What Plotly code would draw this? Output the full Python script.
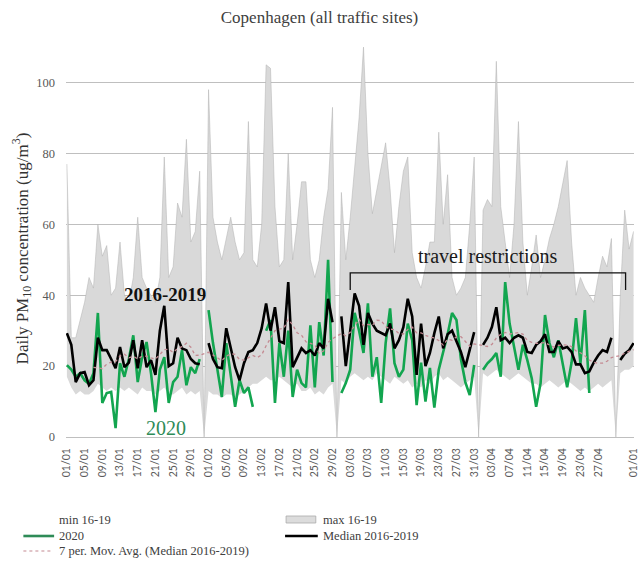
import plotly.graph_objects as go
import pandas as pd

# ---------------- data ----------------
# slots: Jan (31) | gap | Feb (29) | gap | Mar (31) | gap | Apr (30) | gap | tail (4)
max_jan = [77, 28, 28, 33, 38, 45, 42, 60, 51, 54, 40, 42, 55, 40, 38, 45, 62, 45, 42, 40,
           38, 45, 79, 45, 48, 66, 62, 84, 55, 58, 75]
max_feb = [98, 62, 55, 50, 56, 62, 55, 50, 52, 89, 50, 48, 60, 105, 104, 65, 48, 50, 80, 50,
           60, 72, 72, 50, 45, 50, 62, 70, 93]
max_mar = [69, 50, 62, 75, 90, 110, 80, 63, 70, 77, 83, 70, 52, 65, 75, 79, 52, 45, 42, 48,
           55, 55, 86, 60, 74, 45, 40, 42, 45, 60, 79]
max_apr = [64, 67, 65, 106, 65, 55, 45, 60, 89, 55, 40, 48, 57, 45, 50, 56, 60, 65, 72, 78,
           55, 40, 45, 42, 40, 38, 45, 51, 48, 56]
max_tail = [40, 64, 53, 58]

min_jan = [17, 14, 12, 13, 12, 12, 13, 15, 14, 13, 14, 13, 14, 13, 14, 13, 12, 14, 13, 13,
           12, 13, 14, 12, 12, 13, 14, 12, 13, 12, 13]
min_feb = [13, 12, 12, 11, 12, 12, 11, 12, 13, 14, 15, 15, 16, 17, 16, 16, 17, 16, 15, 14,
           15, 13, 13, 14, 12, 13, 12, 14, 15]
min_mar = [16, 15, 17, 18, 17, 16, 17, 16, 18, 17, 16, 15, 17, 16, 15, 16, 14, 15, 14, 16,
           15, 17, 18, 16, 17, 16, 15, 14, 15, 16, 17]
min_apr = [18, 17, 18, 19, 18, 17, 16, 17, 18, 17, 16, 15, 15, 14, 15, 16, 15, 14, 15, 16,
           15, 14, 13, 14, 13, 14, 15, 14, 15, 16]
min_tail = [18, 19, 19, 20]

med_jan = [29.3, 26, 15.5, 18, 18.3, 14.6, 16, 28, 24.5, 24.5, 22, 19.4, 25.4, 19.7, 21, 27.3,
           19.4, 27.3, 19.7, 21.7, 17.5, 30, 37, 20, 20.8, 28, 25, 24.5, 22, 20.8, 20.5]
med_feb = [26.5, 22, 19.7, 19.4, 30.7, 25.4, 19.7, 16, 20.8, 24, 24.5, 26.5, 30.7, 37.7, 30,
           36.6, 27, 26.5, 43.7, 19.7, 22.5, 25, 23.7, 24.5, 23, 26.5, 25, 39, 32.4]
med_mar = [34, 20, 30, 40.5, 37, 26, 35, 32, 30, 29.3, 28.7, 32, 25, 27.3, 31, 39, 34, 17.5,
           32, 20, 23.7, 29.3, 34, 25, 29, 30, 27, 24, 19.7, 24.5, 29.6]
med_apr = [26, 28, 31, 36.6, 27.3, 28, 26.5, 28, 28.7, 28, 24, 23.7, 26, 27, 29, 24, 24, 27,
           25, 25.4, 24, 20.5, 20.5, 18, 18.5, 21, 23, 24.5, 24, 28]
med_tail = [21.7, 23.5, 24.5, 26.5]

y20_jan = [20.3, 19, 17, 18, 16, 15, 18, 35, 9.6, 12.4, 12.7, 2.5, 20.8, 17, 22, 28.7, 15.5,
           22.5, 26.8, 18, 7, 19, 22.5, 9.6, 15.5, 17, 24.5, 14.6, 19.7, 18, 22]
y20_feb = [35.8, 26.5, 19, 11.3, 26.5, 17, 8.5, 16, 12.4, 14, 8.5, None, None, 30, 33, 9.6,
           26.5, 17, 30, 11.3, 19, 15.2, 14, 31.5, 14, 32.4, 23, 50, 15.5]
y20_mar = [12.4, 15.2, 19, 35, 30, 23.7, 37.7, 17, 22.5, 9.6, 26.5, 36.3, 20.8, 17, 19, 32,
           27.3, 9, 21, 10, 19.5, 8.3, 19, 24, 29, 35, 33, 22, 15.5, 11.8, 20.3]
y20_apr = [19, 20.8, 22, 23.7, 17, 43.7, 32, 25, 19, 26, 21.7, 16.6, 8.5, 15.2, 34.4, 26.5,
           22.5, 27.3, 20.8, 14, 21, 33.5, 20.8, 35.8, 12.4, None, None, None, None, None]
y20_tail = [None, None, None, None]

tick_labels = ["01/01", "05/01", "09/01", "13/01", "17/01", "21/01", "25/01", "29/01",
               "01/02", "05/02", "09/02", "13/02", "17/02", "21/02", "25/02", "29/02",
               "03/03", "07/03", "11/03", "15/03", "19/03", "23/03", "27/03", "31/03",
               "03/04", "07/04", "11/04", "15/04", "19/04", "23/04", "27/04", "", "01/01"]


def join(parts, gap):
    out = []
    for i, p in enumerate(parts):
        out += p
        if i < len(parts) - 1:
            out.append(gap)
    return out


# area series: empty cells plotted as zero (as in the source chart); line series: gaps
max_all = join([max_jan, max_feb, max_mar, max_apr, max_tail], 0)
min_all = join([min_jan, min_feb, min_mar, min_apr, min_tail], 0)
med_all = join([med_jan, med_feb, med_mar, med_apr, med_tail], None)
y20_all = join([y20_jan, y20_feb, y20_mar, y20_apr, y20_tail], None)
x = list(range(len(max_all)))

# 7-period moving-average trendline of the median (the chart's own trendline)
med_s = pd.Series(med_all, index=x, dtype=float).dropna()
ma = med_s.rolling(7).mean().dropna()

W, H = 639, 562
L, R, T, B = 66, 0, 40, 125
PW, PH = W - L - R, H - T - B


def px(xp):
    return (xp - L) / PW


def py(yp):
    return (H - B - yp) / PH


SERIF = "Liberation Serif, Times New Roman, serif"

fig = go.Figure()
fig.add_trace(go.Scatter(x=x, y=min_all, mode="lines", line=dict(width=0),
                         hoverinfo="skip", name="min 16-19"))
fig.add_trace(go.Scatter(x=x, y=max_all, mode="lines", fill="tonexty",
                         fillcolor="#d9d9d9", line=dict(color="#b0b0b0", width=0.5),
                         name="max 16-19"))
fig.add_trace(go.Scatter(x=x, y=y20_all, mode="lines", connectgaps=False,
                         line=dict(color="#12a54f", width=2.6), name="2020"))
fig.add_trace(go.Scatter(x=x, y=med_all, mode="lines", connectgaps=False,
                         line=dict(color="#000000", width=2.6), name="Median 2016-2019"))
fig.add_trace(go.Scatter(x=list(ma.index), y=list(ma.values), mode="lines",
                         line=dict(color="#c48a92", width=1.3, dash="dot"),
                         name="7 per. Mov. Avg. (Median 2016-2019)"))


def note(text, xp, yp, font, xanchor="center", **kw):
    return dict(text=text, x=px(xp), y=py(yp), xref="paper", yref="paper",
                xanchor=xanchor, yanchor="middle", showarrow=False, font=font, **kw)


annotations = [
    note("Daily PM<sub>10</sub> concentration (ug/m<sup>3</sup>)", 21, 248,
         dict(family=SERIF, size=17, color="#333333"), textangle=-90),
    note("travel restrictions", 492, 256, dict(family=SERIF, size=20, color="#1a1a1a")),
    note("<b>2016-2019</b>", 166, 294, dict(family=SERIF, size=19, color="#111111")),
    note("2020", 167, 428, dict(family=SERIF, size=20, color="#2e8b57")),
]

leg_font = dict(family=SERIF, size=12.5, color="#404040")
legend_items = [("min 16-19", 57, 520), ("max 16-19", 323, 520), ("2020", 57, 536),
                ("Median 2016-2019", 323, 536),
                ("7 per. Mov. Avg. (Median 2016-2019)", 57, 551)]
for txt, lx, ly in legend_items:
    annotations.append(note(txt, lx, ly, leg_font, xanchor="left"))

shapes = [
    # bracket for "travel restrictions"
    dict(type="path", xref="x", yref="y", path="M 64,41.5 L 64,46.3 L 126.2,46.3 L 126.2,41.5",
         line=dict(color="#111111", width=1.3)),
    # legend markers
    dict(type="rect", xref="paper", yref="paper", x0=px(288), x1=px(318), y0=py(523), y1=py(516),
         fillcolor="#dcdcdc", line=dict(color="#a9a9a9", width=0.8)),
    dict(type="line", xref="paper", yref="paper", x0=px(23), x1=px(54), y0=py(536), y1=py(536),
         line=dict(color="#2e8b57", width=2.6)),
    dict(type="line", xref="paper", yref="paper", x0=px(287), x1=px(320), y0=py(536), y1=py(536),
         line=dict(color="#000000", width=2.6)),
    dict(type="line", xref="paper", yref="paper", x0=px(23), x1=px(52), y0=py(551), y1=py(551),
         line=dict(color="#c48a92", width=1.2, dash="dot")),
]

fig.update_layout(
    width=W, height=H,
    margin=dict(l=L, r=R, t=T, b=B, pad=0),
    paper_bgcolor="white", plot_bgcolor="white",
    showlegend=False,
    title=dict(text="Copenhagen (all traffic sites)", x=0.5, xanchor="center",
               y=1 - 17 / H, yanchor="middle", yref="container",
               font=dict(family=SERIF, size=17, color="#404040")),
    xaxis=dict(range=[-0.2, 128.1], tickmode="array", tickvals=list(range(0, 129, 4)),
               ticktext=tick_labels, tickangle=-90, showgrid=False, zeroline=False,
               showline=True, linecolor="#bfbfbf", linewidth=1, ticks="",
               ticklabelstandoff=6, ticklabeloverflow="allow",
               tickfont=dict(family="Lato, Open Sans, sans-serif", size=10.5, color="#595959")),
    yaxis=dict(range=[0, 112], tickmode="array", tickvals=[0, 20, 40, 60, 80, 100],
               showgrid=True, gridcolor="#bfbfbf", gridwidth=1, zeroline=False,
               showline=False, ticks="", ticklabelstandoff=10,
               tickfont=dict(family=SERIF, size=12.5, color="#595959")),
    annotations=annotations,
    shapes=shapes,
)

fig.write_html("out.html", config={"displayModeBar": False},
               post_script="document.body.style.margin='0';document.body.style.overflow='hidden';")
